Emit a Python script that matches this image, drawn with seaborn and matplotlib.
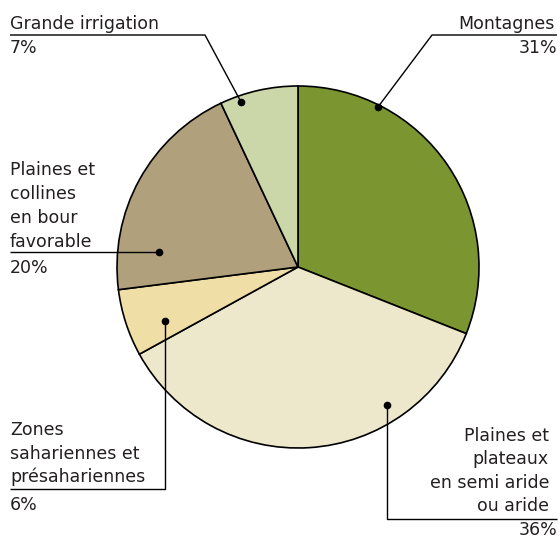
import matplotlib
matplotlib.use("Agg")
import matplotlib.pyplot as plt
import seaborn as sns

# parts des zones agro-climatiques (%)
zones = ["Montagnes", "Plaines et plateaux en semi aride ou aride",
         "Zones sahariennes et présahariennes",
         "Plaines et collines en bour favorable", "Grande irrigation"]
parts = [31, 36, 6, 20, 7]
couleurs = ["#7b9531", "#ede7cc", "#efdea5", "#b0a07b", "#cbd7a8"]

sns.set_theme(style="white")
plt.rcParams["font.family"] = ["DejaVu Sans"]

W, H = 560, 540
fig = plt.figure(figsize=(W / 100, H / 100), dpi=100)
ax = fig.add_axes([0, 0, 1, 1])

def Y(y):
    return H - y

cx, cy, r = 298, 267, 181
ax.pie(parts, colors=sns.color_palette(couleurs), startangle=90, counterclock=False,
       center=(cx, Y(cy)), radius=r,
       wedgeprops=dict(edgecolor="black", linewidth=1.2))
ax.set_xlim(0, W)
ax.set_ylim(0, H)
ax.set_aspect("equal")
ax.axis("off")

ink = "#231f20"
fs = 12.5

def lignes(x, bases, textes, ha):
    for b, t in zip(bases, textes):
        ax.text(x, Y(b), t, ha=ha, va="baseline", fontsize=fs, color=ink)

def trait(xs, ys):
    ax.plot(xs, [Y(v) for v in ys], color="black", lw=1.0, solid_capstyle="butt")

def point(x, y):
    ax.plot([x], [Y(y)], "o", color="black", ms=4.5)

# Grande irrigation
lignes(10, [29], ["Grande irrigation"], "left")
lignes(10, [53], [f"{parts[4]}%"], "left")
trait([10, 205, 241], [35, 35, 102])
point(241, 102)

# Montagnes
lignes(555, [29], ["Montagnes"], "right")
lignes(557, [53], [f"{parts[0]}%"], "right")
trait([557, 432, 378], [35, 35, 107])
point(378, 107)

# Plaines et collines
lignes(10, [175, 199, 223, 247], ["Plaines et", "collines", "en bour", "favorable"], "left")
lignes(10, [273], [f"{parts[3]}%"], "left")
trait([10, 159], [252, 252])
point(159, 252)

# Zones sahariennes
lignes(10, [435, 459, 482], ["Zones", "sahariennes et", "présahariennes"], "left")
lignes(10, [510], [f"{parts[2]}%"], "left")
trait([10, 165, 165], [489, 489, 321])
point(165, 321)

# Plaines et plateaux
lignes(549, [441, 464, 488, 511], ["Plaines et", "plateaux", "en semi aride", "ou aride"], "right")
lignes(557, [535], [f"{parts[1]}%"], "right")
trait([557, 387, 387], [519, 519, 405])
point(387, 405)

fig.savefig("out.png", dpi=100, facecolor="white")
